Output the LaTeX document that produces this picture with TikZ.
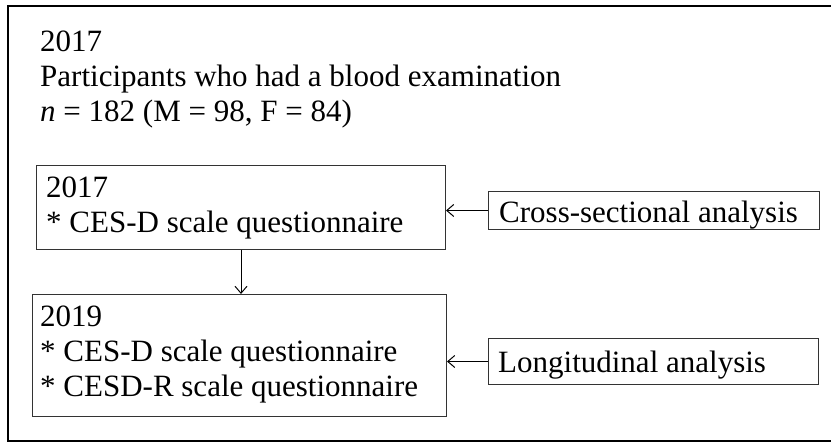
\documentclass[tikz,border=0pt]{standalone}
\usepackage{fontspec}
\setmainfont{Liberation Serif}
\usetikzlibrary{arrows.meta}
\begin{document}
\begin{tikzpicture}[x=1pt,y=-1pt,
  txt/.style={anchor=base west,inner sep=0pt,font=\fontsize{31}{35}\selectfont},
  boxst/.style={draw=black!80,line width=1pt},
  arr/.style={draw=black,line width=1pt,-{Straight Barb[length=7pt,width=12pt]}}]
\useasboundingbox (0,0) rectangle (831,443);
\clip (0,0) rectangle (831,443);
\draw[line width=2.2pt] (8,6) rectangle (845,441);
% top text
\node[txt] (t1) at (40,52) {2017};
\node[txt] (t2) at (40,87) {Participants who had a blood examination};
\node[txt] (t3) at (40,122) {\textit{n} = 182 (M = 98, F = 84)};
% boxes
\node[boxst,minimum width=409pt,minimum height=84pt,anchor=north west,inner sep=0pt] (b1) at (36,165) {};
\node[txt] (b1a) at (46,198) {2017};
\node[txt] (b1b) at (46,233) {* CES-D scale questionnaire};
\node[boxst,minimum width=414pt,minimum height=122pt,anchor=north west,inner sep=0pt] (b2) at (32,294) {};
\node[txt] (b2a) at (40,327) {2019};
\node[txt] (b2b) at (40,362) {* CES-D scale questionnaire};
\node[txt] (b2c) at (40,397) {* CESD-R scale questionnaire};
\node[boxst,minimum width=331pt,minimum height=38pt,anchor=north west,inner sep=0pt] (cs) at (488,191) {};
\node[txt] (cst) at (499,223) {Cross-sectional analysis};
\node[boxst,minimum width=330pt,minimum height=46pt,anchor=north west,inner sep=0pt] (lg) at (488,338) {};
\node[txt] (lgt) at (498,373) {Longitudinal analysis};
% arrows
\draw[arr] (cs.west) -- (cs.west -| b1.east);
\draw[arr] (lg.west) -- (lg.west -| b2.east);
\draw[arr] (b1.south) -- (b2.north -| b1.south);
\end{tikzpicture}
\end{document}
